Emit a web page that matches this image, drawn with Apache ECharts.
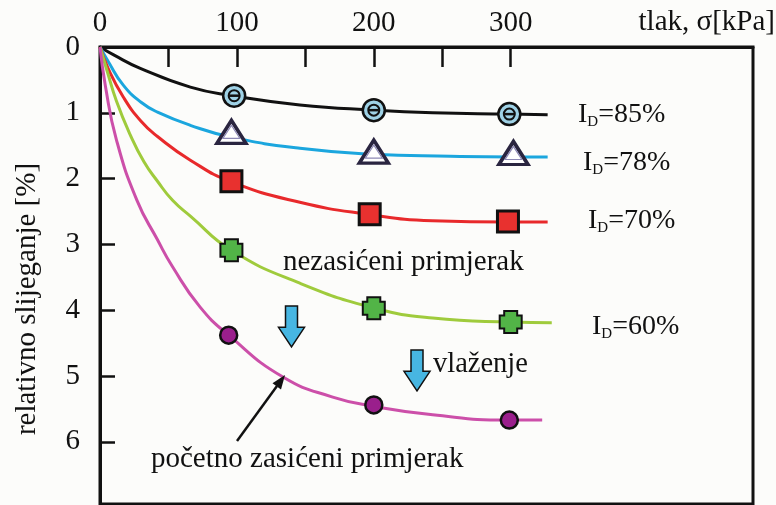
<!DOCTYPE html>
<html>
<head>
<meta charset="utf-8">
<script src="https://cdn.jsdelivr.net/npm/echarts@6/dist/echarts.min.js"></script>
<style>
  html, body { margin: 0; padding: 0; background: #fcfcfa; }
  #chart { width: 776px; height: 505px; }
</style>
</head>
<body>
<div id="chart"></div>
<script>
// tlak sigma [kPa] / relativno slijeganje [%]
var xTicks = [50, 100, 150, 200, 250, 300];
var xLabels = [0, 100, 200, 300];
var yTicks = [1, 2, 3, 4, 5, 6];
var yLabels = [0, 1, 2, 3, 4, 5, 6];

// krivulje (ocitano sa slike)
var curve85 = [[0, 0], [10, 0.12], [29, 0.32], [66, 0.61], [97, 0.74], [146, 0.88], [200, 0.96], [243, 1.0], [299, 1.02], [327, 1.03]];
var curve78 = [[0, 0], [6, 0.22], [17, 0.58], [30, 0.84], [42, 0.99], [66, 1.19], [96, 1.37], [146, 1.54], [199, 1.63], [256, 1.66], [301, 1.67], [327, 1.67]];
var curve70 = [[0, 0], [6, 0.33], [17, 0.76], [30, 1.13], [42, 1.36], [66, 1.72], [96, 2.05], [146, 2.36], [195, 2.54], [243, 2.64], [298, 2.66], [327, 2.66]];
var curve60 = [[0, 0], [5, 0.35], [12, 0.82], [22, 1.33], [32, 1.74], [42, 2.04], [53, 2.33], [66, 2.57], [96, 3.09], [146, 3.59], [201, 3.97], [243, 4.12], [300, 4.18], [330, 4.19]];
var curveSat = [[0, 0], [4, 0.6], [12, 1.41], [27, 2.33], [42, 2.93], [53, 3.34], [73, 3.95], [94, 4.38], [134, 5.02], [170, 5.32], [200, 5.46], [243, 5.59], [298, 5.67], [323, 5.67]];

// mjerene tocke
var pts85 = [[98, 0.74], [200, 0.96], [299, 1.02]];
var pts78 = [[96, 1.29], [200, 1.59], [302, 1.61]];
var pts70 = [[96, 2.04], [197, 2.54], [298, 2.65]];
var pts60 = [[96, 3.09], [200, 3.97], [300, 4.18]];
var ptsSat = [[94, 4.38], [200, 5.44], [299, 5.67]];

var serif = 'Liberation Serif';
var ink = '#111';

function curve(data, color) {
  return {
    type: 'line', data: data, smooth: 0.5,
    symbol: 'none', clip: false, z: 2,
    lineStyle: { color: color, width: 3 }
  };
}
function marks(data, symbol, size, fill, border, bw) {
  return {
    type: 'scatter', data: data, symbol: symbol, symbolSize: size, z: 5,
    itemStyle: { color: fill, borderColor: border, borderWidth: bw, opacity: 1 }
  };
}
function idLabel(x, y, txt) {
  return {
    type: 'text', x: x, y: y, z: 10,
    style: {
      text: '{i|I}{d|D}{i|' + txt + '}',
      verticalAlign: 'middle',
      rich: {
        i: { fontFamily: serif, fontSize: 28, fill: ink },
        d: { fontFamily: serif, fontSize: 15, fill: ink, padding: [14, 0, 0, 0] }
      }
    }
  };
}
function plainText(x, y, txt, size, align) {
  return {
    type: 'text', x: x, y: y, z: 10,
    style: { text: txt, font: size + 'px ' + serif, fill: ink,
      align: align || 'left', verticalAlign: 'middle' }
  };
}
function bigArrow(cx, top, bottom) {
  var sh = 6, hw = 13, hs = top + (bottom - top) * 0.52;
  return {
    type: 'polygon', z: 10,
    shape: { points: [[cx - sh, top], [cx + sh, top], [cx + sh, hs], [cx + hw, hs], [cx, bottom], [cx - hw, hs], [cx - sh, hs]] },
    style: { fill: '#47b6e2', stroke: ink, lineWidth: 1.5 }
  };
}

var crossPath = 'path://M4.5,0 H17.5 V4.5 H22 V17.5 H17.5 V22 H4.5 V17.5 H0 V4.5 H4.5 Z';

var option = {
  backgroundColor: '#fcfcfa',
  animation: false,
  textStyle: { fontFamily: serif },
  grid: { left: 100, top: 47, right: 23, bottom: 1, show: true, borderColor: ink, borderWidth: 3, backgroundColor: 'transparent' },
  xAxis: {
    type: 'value', position: 'top', min: 0, max: 477,
    axisLine: { show: true, lineStyle: { color: ink, width: 3 } },
    axisTick: { show: true, inside: true, length: 20, customValues: xTicks, lineStyle: { color: ink, width: 2.5 } },
    axisLabel: { customValues: xLabels, fontFamily: serif, fontSize: 29, color: ink, margin: 9 },
    splitLine: { show: false }
  },
  yAxis: {
    type: 'value', inverse: true, min: 0, max: 6.945,
    axisLine: { show: true, lineStyle: { color: ink, width: 3 } },
    axisTick: { show: true, inside: true, length: 15, customValues: yTicks, lineStyle: { color: ink, width: 2.5 } },
    axisLabel: { customValues: yLabels, fontFamily: serif, fontSize: 29, color: ink, margin: 20 },
    splitLine: { show: false }
  },
  series: [
    curve(curve85, '#111111'),
    curve(curve78, '#1ba6de'),
    curve(curve70, '#e8292b'),
    curve(curve60, '#9fcb3c'),
    curve(curveSat, '#cc4fa9'),
    marks(pts85, 'circle', 22, '#9fd2e6', ink, 2.5),
    marks(pts85, 'circle', 11, '#9fd2e6', ink, 2),
    marks(pts85, 'rect', [10, 2.5], ink, ink, 0),
    marks(pts78, 'triangle', [29, 23], '#ffffff', '#2a2540', 3.5),
    marks(pts78, 'triangle', [17, 13], '#ffffff', '#8d88b5', 1.2),
    marks(pts70, 'rect', 21, '#e8312f', ink, 3),
    marks(pts60, crossPath, 22, '#52b447', ink, 2),
    marks(ptsSat, 'circle', 17, '#9a1f8c', ink, 2.5)
  ],
  graphic: [
    plainText(775, 22, 'tlak, σ[kPa]', 29, 'right'),
    {
      type: 'text', x: 27, y: 299, rotation: Math.PI / 2, z: 10,
      style: { text: 'relativno slijeganje [%]', font: '29px ' + serif, fill: ink,
        align: 'center', verticalAlign: 'middle' }
    },
    idLabel(578, 115, '=85%'),
    idLabel(583, 163, '=78%'),
    idLabel(588, 221, '=70%'),
    idLabel(592, 327, '=60%'),
    plainText(283, 262, 'nezasićeni primjerak', 29),
    plainText(433, 365, 'vlaženje', 28.5),
    plainText(151, 459, 'početno zasićeni primjerak', 29),
    bigArrow(291.5, 306, 347),
    bigArrow(417, 350, 391),
    {
      type: 'line', z: 10,
      shape: { x1: 237, y1: 441, x2: 277, y2: 386 },
      style: { stroke: ink, lineWidth: 2.5 }
    },
    {
      type: 'polygon', z: 10,
      shape: { points: [[285, 375], [281, 389.5], [272.5, 383.2]] },
      style: { fill: ink }
    }
  ]
};

var chart = echarts.init(document.getElementById('chart'), null, { renderer: 'canvas' });
chart.setOption(option);
</script>
</body>
</html>
